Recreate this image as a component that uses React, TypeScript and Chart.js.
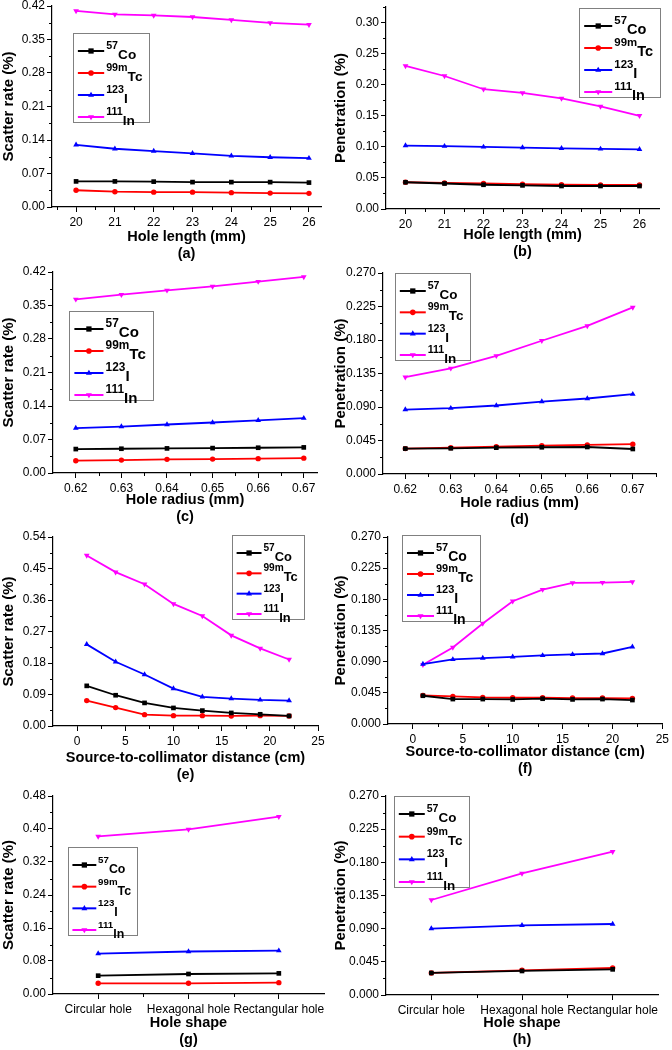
import React, { useEffect, useRef } from 'react';
import { Chart, registerables } from 'chart.js';
Chart.register(...registerables);

const FONT = "'Liberation Sans', Arial, sans-serif";
Chart.defaults.font.family = FONT;

// ---- legend / series identity ----
const isoSup = ['57', '99m', '123', '111'];
const isoMain = ['Co', 'Tc', 'I', 'In'];
const seriesColors = ['#000000', '#ff0000', '#0000ff', '#ff00ff'];
const seriesMarkers = ['rect', 'circle', 'triangle', 'triangleDown'];

// ---- x values / categories ----
const holeLength = [20, 21, 22, 23, 24, 25, 26];
const holeRadius = [0.62, 0.63, 0.64, 0.65, 0.66, 0.67];
const distance = [1, 4, 7, 10, 13, 16, 19, 22];
const holeShape = ['Circular hole', 'Hexagonal hole', 'Rectangular hole'];

// ---- (a) scatter vs hole length ----
const scatterLenCo = [0.0535, 0.0535, 0.053, 0.052, 0.052, 0.052, 0.051];
const scatterLenTc = [0.035, 0.032, 0.031, 0.031, 0.030, 0.029, 0.0285];
const scatterLenI = [0.130, 0.1217, 0.1168, 0.112, 0.107, 0.104, 0.102];
const scatterLenIn = [0.4096, 0.4026, 0.4005, 0.397, 0.391, 0.3846, 0.381];
// ---- (b) penetration vs hole length ----
const penLenCo = [0.043, 0.041, 0.039, 0.038, 0.037, 0.037, 0.037];
const penLenTc = [0.043, 0.042, 0.041, 0.040, 0.039, 0.0386, 0.0386];
const penLenI = [0.102, 0.101, 0.0998, 0.0988, 0.0977, 0.0966, 0.096];
const penLenIn = [0.2302, 0.214, 0.1927, 0.1868, 0.178, 0.165, 0.150];
// ---- (c) scatter vs hole radius ----
const scatterRadCo = [0.050, 0.0507, 0.0514, 0.052, 0.0528, 0.0535];
const scatterRadTc = [0.0257, 0.027, 0.0285, 0.029, 0.030, 0.031];
const scatterRadI = [0.0937, 0.097, 0.1013, 0.1055, 0.110, 0.1145];
const scatterRadIn = [0.363, 0.3728, 0.3818, 0.390, 0.400, 0.4096];
// ---- (d) penetration vs hole radius ----
const penRadCo = [0.0341, 0.0345, 0.0354, 0.0359, 0.0363, 0.0336];
const penRadTc = [0.0341, 0.0354, 0.0368, 0.0381, 0.039, 0.040];
const penRadI = [0.0866, 0.0884, 0.092, 0.0973, 0.1014, 0.1072];
const penRadIn = [0.130, 0.142, 0.1588, 0.179, 0.199, 0.2238];
// ---- (e) scatter vs distance ----
const scatterDistCo = [0.1147, 0.0879, 0.066, 0.0516, 0.044, 0.0373, 0.0335, 0.0287];
const scatterDistTc = [0.0726, 0.0526, 0.0325, 0.0296, 0.0296, 0.0287, 0.0296, 0.0287];
const scatterDistI = [0.2332, 0.1835, 0.1472, 0.107, 0.0832, 0.0784, 0.0745, 0.0726];
const scatterDistIn = [0.4874, 0.4397, 0.4052, 0.3488, 0.3144, 0.259, 0.2217, 0.190];
// ---- (f) penetration vs distance ----
const penDistCo = [0.0408, 0.036, 0.036, 0.0355, 0.0365, 0.0355, 0.036, 0.0346];
const penDistTc = [0.0413, 0.0399, 0.0384, 0.0379, 0.0379, 0.0375, 0.0375, 0.037];
const penDistI = [0.0865, 0.0932, 0.0951, 0.097, 0.099, 0.1004, 0.1018, 0.1115];
const penDistIn = [0.0855, 0.1105, 0.1451, 0.1773, 0.1941, 0.2037, 0.2042, 0.2051];
// ---- (g) scatter vs hole shape ----
const scatterShapeCo = [0.0444, 0.0485, 0.050];
const scatterShapeTc = [0.0259, 0.0259, 0.0275];
const scatterShapeI = [0.098, 0.103, 0.105];
const scatterShapeIn = [0.3822, 0.3992, 0.4299];
// ---- (h) penetration vs hole shape ----
const penShapeCo = [0.0299, 0.0326, 0.0348];
const penShapeTc = [0.0299, 0.0335, 0.0366];
const penShapeI = [0.090, 0.0945, 0.0963];
const penShapeIn = [0.1289, 0.165, 0.1945];

// ---- tick values ----
const yTicksScatter42 = [0, 0.07, 0.14, 0.21, 0.28, 0.35, 0.42];
const yTicksPen30 = [0, 0.05, 0.10, 0.15, 0.20, 0.25, 0.30];
const yTicksPen27 = [0, 0.045, 0.09, 0.135, 0.18, 0.225, 0.27];
const yTicksScatter54 = [0, 0.09, 0.18, 0.27, 0.36, 0.45, 0.54];
const yTicksScatter48 = [0, 0.08, 0.16, 0.24, 0.32, 0.40, 0.48];
const xTicksDistance = [0, 5, 10, 15, 20, 25];

type Rect = { l: number; t: number; r: number; b: number };
type Panel = {
  id: string;
  xTitle: string;
  yTitle: string;
  x: (number | string)[];
  series: number[][];
  xMin?: number;
  xMax?: number;
  xTicks?: number[];
  xDec?: number;
  yMax: number;
  yTicks: number[];
  yDec: number;
  canvasLeft: number;
  plot: Rect;
  line1: number;
  legend: { x: number; y: number; w: number; h: number };
};

const panels: Panel[] = [
  {
    id: 'a', xTitle: 'Hole length (mm)', yTitle: 'Scatter rate (%)', x: holeLength,
    series: [scatterLenCo, scatterLenTc, scatterLenI, scatterLenIn],
    xMin: 19.38, xMax: 26.31, xTicks: holeLength, xDec: 0,
    yMax: 0.42, yTicks: yTicksScatter42, yDec: 2,
    canvasLeft: 0, plot: { l: 52, t: 6, r: 321, b: 207 }, line1: 237,
    legend: { x: 73, y: 33, w: 76, h: 89 },
  },
  {
    id: 'b', xTitle: 'Hole length (mm)', yTitle: 'Penetration (%)', x: holeLength,
    series: [penLenCo, penLenTc, penLenI, penLenIn],
    xMin: 19.5, xMax: 26.5, xTicks: holeLength, xDec: 0,
    yMax: 0.325, yTicks: yTicksPen30, yDec: 2,
    canvasLeft: 332, plot: { l: 386, t: 7, r: 659, b: 209 }, line1: 235,
    legend: { x: 579, y: 8, w: 81, h: 89 },
  },
  {
    id: 'c', xTitle: 'Hole radius (mm)', yTitle: 'Scatter rate (%)', x: holeRadius,
    series: [scatterRadCo, scatterRadTc, scatterRadI, scatterRadIn],
    xMin: 0.615, xMax: 0.6729, xTicks: holeRadius, xDec: 2,
    yMax: 0.42, yTicks: yTicksScatter42, yDec: 2,
    canvasLeft: 0, plot: { l: 53, t: 272, r: 317, b: 473 }, line1: 500,
    legend: { x: 69, y: 311, w: 84, h: 89 },
  },
  {
    id: 'd', xTitle: 'Hole radius (mm)', yTitle: 'Penetration (%)', x: holeRadius,
    series: [penRadCo, penRadTc, penRadI, penRadIn],
    xMin: 0.6151, xMax: 0.6751, xTicks: holeRadius, xDec: 2,
    yMax: 0.27, yTicks: yTicksPen27, yDec: 3,
    canvasLeft: 332, plot: { l: 383, t: 273, r: 656, b: 474 }, line1: 503,
    legend: { x: 395, y: 273, w: 75, h: 87 },
  },
  {
    id: 'e', xTitle: 'Source-to-collimator distance (cm)', yTitle: 'Scatter rate (%)', x: distance,
    series: [scatterDistCo, scatterDistTc, scatterDistI, scatterDistIn],
    xMin: -2.5, xMax: 25, xTicks: xTicksDistance, xDec: 0,
    yMax: 0.54, yTicks: yTicksScatter54, yDec: 2,
    canvasLeft: 0, plot: { l: 53, t: 537, r: 318, b: 726 }, line1: 758,
    legend: { x: 232, y: 535, w: 72, h: 84 },
  },
  {
    id: 'f', xTitle: 'Source-to-collimator distance (cm)', yTitle: 'Penetration (%)', x: distance,
    series: [penDistCo, penDistTc, penDistI, penDistIn],
    xMin: -2.5, xMax: 25, xTicks: xTicksDistance, xDec: 0,
    yMax: 0.27, yTicks: yTicksPen27, yDec: 3,
    canvasLeft: 332, plot: { l: 388, t: 537, r: 664, b: 724 }, line1: 752,
    legend: { x: 402, y: 535, w: 78, h: 86 },
  },
  {
    id: 'g', xTitle: 'Hole shape', yTitle: 'Scatter rate (%)', x: holeShape,
    series: [scatterShapeCo, scatterShapeTc, scatterShapeI, scatterShapeIn],
    yMax: 0.48, yTicks: yTicksScatter48, yDec: 2,
    canvasLeft: 0, plot: { l: 53, t: 796, r: 324, b: 994 }, line1: 1023,
    legend: { x: 68, y: 847, w: 69, h: 88 },
  },
  {
    id: 'h', xTitle: 'Hole shape', yTitle: 'Penetration (%)', x: holeShape,
    series: [penShapeCo, penShapeTc, penShapeI, penShapeIn],
    yMax: 0.27, yTicks: yTicksPen27, yDec: 3,
    canvasLeft: 332, plot: { l: 386, t: 796, r: 658, b: 995 }, line1: 1023,
    legend: { x: 394, y: 796, w: 75, h: 91 },
  },
];

const LH = 17;

function geom(p: Panel) {
  const top = p.plot.t - 10;
  const left = p.canvasLeft;
  const right = Math.min(672, p.plot.r + 12);
  const bottom = Math.ceil(p.line1 + LH * 1.5 + 1);
  return {
    left, top, w: right - left, h: bottom - top,
    padTop: p.plot.t - top, padRight: right - p.plot.r,
    yW: p.plot.l - left, xH: bottom - p.plot.b,
    titlePadBottom: bottom - p.line1 - LH * 1.5,
  };
}

function drawMarker(ctx: CanvasRenderingContext2D, kind: string, x: number, y: number, r: number, color: string) {
  ctx.save();
  ctx.fillStyle = color;
  ctx.beginPath();
  if (kind === 'rect') {
    const s = r * 0.8;
    ctx.rect(x - s, y - s, 2 * s, 2 * s);
  } else if (kind === 'circle') {
    ctx.arc(x, y, r * 0.85, 0, Math.PI * 2);
  } else if (kind === 'triangle') {
    ctx.moveTo(x, y - r);
    ctx.lineTo(x - r * 0.9, y + r * 0.55);
    ctx.lineTo(x + r * 0.9, y + r * 0.55);
    ctx.closePath();
  } else {
    ctx.moveTo(x, y + r);
    ctx.lineTo(x - r * 0.9, y - r * 0.55);
    ctx.lineTo(x + r * 0.9, y - r * 0.55);
    ctx.closePath();
  }
  ctx.fill();
  ctx.restore();
}

function buildConfig(p: Panel): any {
  const g = geom(p);
  const isCat = typeof p.x[0] === 'string';
  const datasets = p.series.map((s, i) => ({
    label: isoSup[i] + isoMain[i],
    data: isCat ? s : (p.x as number[]).map((xv, j) => ({ x: xv, y: s[j] })),
    borderColor: seriesColors[i],
    backgroundColor: seriesColors[i],
    borderWidth: 1.8,
    pointStyle: seriesMarkers[i] === 'triangleDown' ? 'triangle' : seriesMarkers[i],
    rotation: seriesMarkers[i] === 'triangleDown' ? 180 : 0,
    pointRadius: seriesMarkers[i] === 'circle' ? 2.7 : 3.3,
    pointBorderWidth: 0,
    tension: 0,
    clip: false,
  }));

  const tickFont = { family: FONT, size: 12 };
  const titleFont = { family: FONT, size: 15, weight: 'bold' as const };
  const axisCommon = {
    grid: { display: true, drawOnChartArea: false, drawTicks: true, tickLength: 5, color: '#000', lineWidth: 1, offset: false },
    border: { display: true, color: '#000', width: 1.2 },
  };

  const xScale: any = isCat
    ? {
        type: 'category',
        offset: true,
        ...axisCommon,
        ticks: { color: '#000', font: tickFont, padding: 3, maxRotation: 0, autoSkip: false },
      }
    : {
        type: 'linear',
        min: p.xMin,
        max: p.xMax,
        ...axisCommon,
        afterBuildTicks: (s: any) => { s.ticks = (p.xTicks as number[]).map((v) => ({ value: v })); },
        ticks: {
          color: '#000', font: tickFont, padding: 3, maxRotation: 0, autoSkip: false,
          callback: (v: any) => Number(v).toFixed(p.xDec || 0),
        },
      };
  xScale.title = {
    display: true,
    text: [p.xTitle, '(' + p.id + ')'],
    color: '#000',
    font: { family: FONT, size: 14.5, weight: 'bold', lineHeight: LH + 'px' },
    padding: { top: 0, bottom: g.titlePadBottom },
  };
  xScale.afterFit = (s: any) => { s.height = g.xH; };

  const yScale: any = {
    type: 'linear',
    min: 0,
    max: p.yMax,
    ...axisCommon,
    afterBuildTicks: (s: any) => { s.ticks = p.yTicks.map((v) => ({ value: v })); },
    ticks: { color: '#000', font: tickFont, padding: 2, callback: (v: any) => Number(v).toFixed(p.yDec) },
    title: { display: true, text: p.yTitle, color: '#000', font: titleFont, padding: { top: 0, bottom: 0 } },
    afterFit: (s: any) => { s.width = g.yW; },
  };

  const extras = {
    id: 'extras' + p.id,
    afterDraw(chart: any) {
      const ctx: CanvasRenderingContext2D = chart.ctx;
      const xs = chart.scales.x;
      const ys = chart.scales.y;
      const area = chart.chartArea;
      ctx.save();
      ctx.strokeStyle = '#000';
      ctx.lineWidth = 1;
      // minor ticks on y
      const yt = p.yTicks;
      const stepY = yt[1] - yt[0];
      for (let i = 0; i < yt.length; i++) {
        const m = yt[i] + stepY / 2;
        if (m > p.yMax + 1e-9) continue;
        const py = Math.round(ys.getPixelForValue(m)) + 0.5;
        ctx.beginPath();
        ctx.moveTo(area.left, py);
        ctx.lineTo(area.left - 3, py);
        ctx.stroke();
      }
      // minor ticks on x
      const mids: number[] = [];
      if (isCat) {
        for (let i = 0; i < p.x.length - 1; i++) mids.push(i + 0.5);
      } else {
        const xt = p.xTicks as number[];
        const stepX = xt[1] - xt[0];
        for (let i = -1; i < xt.length; i++) {
          const m = xt[0] + stepX * i + stepX / 2;
          if (m > (p.xMin as number) + 1e-9 && m < (p.xMax as number) - 1e-9) mids.push(m);
        }
      }
      mids.forEach((m) => {
        const px = Math.round(xs.getPixelForValue(m)) + 0.5;
        ctx.beginPath();
        ctx.moveTo(px, area.bottom);
        ctx.lineTo(px, area.bottom + 3);
        ctx.stroke();
      });
      // legend box
      const L = p.legend;
      const k = L.w / 78;
      const lx = L.x - g.left;
      const ly = L.y - g.top;
      ctx.fillStyle = '#ffffff';
      ctx.fillRect(lx, ly, L.w, L.h);
      ctx.strokeStyle = '#808080';
      ctx.lineWidth = 1;
      ctx.strokeRect(Math.round(lx) + 0.5, Math.round(ly) + 0.5, L.w, L.h);
      const step = (L.h - 23) / 3;
      for (let i = 0; i < 4; i++) {
        const ey = ly + 18 + i * step;
        ctx.strokeStyle = seriesColors[i];
        ctx.lineWidth = 2;
        ctx.beginPath();
        ctx.moveTo(lx + 5 * k, ey);
        ctx.lineTo(lx + 32 * k, ey);
        ctx.stroke();
        drawMarker(ctx, seriesMarkers[i], lx + 18.5 * k, ey, 3.3, seriesColors[i]);
        ctx.fillStyle = '#000';
        ctx.textBaseline = 'alphabetic';
        ctx.textAlign = 'left';
        ctx.font = 'bold ' + (11 * k).toFixed(2) + 'px ' + FONT;
        const tx = lx + 34 * k;
        ctx.fillText(isoSup[i], tx, ey - 2);
        const sw = ctx.measureText(isoSup[i]).width;
        ctx.font = 'bold ' + (14 * k).toFixed(2) + 'px ' + FONT;
        ctx.fillText(isoMain[i], tx + sw, ey + 8);
      }
      ctx.restore();
    },
  };

  return {
    type: 'line',
    data: isCat ? { labels: p.x, datasets } : { datasets },
    options: {
      responsive: false,
      animation: false,
      devicePixelRatio: 1,
      layout: { padding: { top: g.padTop, right: g.padRight, left: 0, bottom: 0 } },
      plugins: { legend: { display: false }, tooltip: { enabled: false } },
      scales: { x: xScale, y: yScale },
    },
    plugins: [extras],
  };
}

function PanelChart({ p }: { p: Panel }) {
  const ref = useRef<HTMLCanvasElement | null>(null);
  const g = geom(p);
  useEffect(() => {
    const chart = new Chart(ref.current as HTMLCanvasElement, buildConfig(p));
    return () => chart.destroy();
  }, []);
  return (
    <canvas
      ref={ref}
      width={g.w}
      height={g.h}
      style={{ position: 'absolute', left: g.left, top: g.top, width: g.w, height: g.h }}
    />
  );
}

export default function App() {
  return (
    <div style={{ position: 'absolute', left: 0, top: 0, width: 672, height: 1050, background: '#fff', overflow: 'hidden' }}>
      {panels.map((p) => (
        <PanelChart key={p.id} p={p} />
      ))}
    </div>
  );
}
